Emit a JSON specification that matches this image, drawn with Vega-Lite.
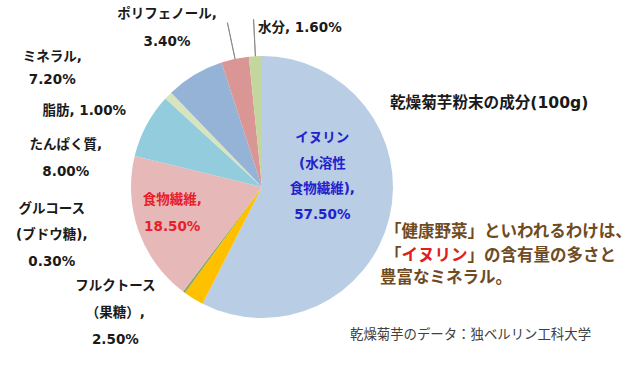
{
  "$schema": "https://vega.github.io/schema/vega-lite/v6.json",
  "width": 262,
  "height": 262,
  "autosize": {"type": "none"},
  "padding": {"left": 131, "top": 56, "right": 247, "bottom": 49},
  "background": "white",
  "config": {"view": {"stroke": null}, "text": {"font": "DejaVu Sans, Noto Sans CJK JP"}},
  "datasets": {
    "parts": [
      {"idx": 1, "name": "イヌリン", "pct": 57.5, "label": "イヌリン\n(水溶性\n食物繊維),\n57.50%"},
      {"idx": 2, "name": "フルクトース", "pct": 2.5, "label": "フルクトース\n（果糖）,\n2.50%"},
      {"idx": 3, "name": "グルコース", "pct": 0.3, "label": "グルコース\n(ブドウ糖),\n0.30%"},
      {"idx": 4, "name": "食物繊維", "pct": 18.5, "label": "食物繊維,\n18.50%"},
      {"idx": 5, "name": "たんぱく質", "pct": 8.0, "label": "たんぱく質,\n8.00%"},
      {"idx": 6, "name": "脂肪", "pct": 1.0, "label": "脂肪, 1.00%"},
      {"idx": 7, "name": "ミネラル", "pct": 7.2, "label": "ミネラル,\n7.20%"},
      {"idx": 8, "name": "ポリフェノール", "pct": 3.4, "label": "ポリフェノール,\n3.40%"},
      {"idx": 9, "name": "水分", "pct": 1.6, "label": "水分, 1.60%"}
    ],
    "notes": [
      {"id": "title", "text": "乾燥菊芋粉末の成分(100g)"},
      {"id": "c1", "text": "「健康野菜」といわれるわけは、"},
      {"id": "c2a", "text": "「"},
      {"id": "c2b", "text": "イヌリン"},
      {"id": "c2c", "text": "」の含有量の多さと"},
      {"id": "c3", "text": "豊富なミネラル。"},
      {"id": "src", "text": "乾燥菊芋のデータ：独ベルリン工科大学"}
    ]
  },
  "layer": [
    {
      "data": {"name": "parts"},
      "encoding": {
        "theta": {"field": "pct", "type": "quantitative", "stack": true},
        "order": {"field": "idx", "type": "quantitative"}
      },
      "layer": [
        {
          "mark": {"type": "arc", "radius": 131},
          "encoding": {
            "color": {
              "field": "name",
              "type": "nominal",
              "scale": {
                "domain": ["イヌリン", "フルクトース", "グルコース", "食物繊維", "たんぱく質", "脂肪", "ミネラル", "ポリフェノール", "水分"],
                "range": ["#B9CDE5", "#FFC000", "#8FA860", "#E6B9B8", "#93CDDD", "#D7E4BD", "#95B3D7", "#D99694", "#C3D69B"]
              },
              "legend": null
            }
          }
        },
        {
          "mark": {"type": "arc", "radius": 168, "radius2": 131, "padAngle": 1.5, "filled": false, "stroke": "#7f7f7f", "strokeWidth": 0.8},
          "encoding": {
            "strokeOpacity": {"condition": {"test": "datum.name === 'ポリフェノール' || datum.name === '水分'", "value": 1}, "value": 0}
          }
        },
        {
          "mark": {"type": "text", "radius": 62, "dx": 0, "dy": -63.5, "align": "center", "baseline": "middle", "lineBreak": "\n", "lineHeight": 25.7, "fontSize": 13.5, "fontWeight": "bold", "color": "#2222CC"},
          "encoding": {"text": {"condition": {"test": "datum.name === 'イヌリン'", "field": "label"}, "value": ""}}
        },
        {
          "mark": {"type": "text", "radius": 90, "dx": -5, "dy": -17, "align": "center", "baseline": "middle", "lineBreak": "\n", "lineHeight": 27, "fontSize": 13.5, "fontWeight": "bold", "color": "#E8202A"},
          "encoding": {"text": {"condition": {"test": "datum.name === '食物繊維'", "field": "label"}, "value": ""}}
        },
        {
          "mark": {"type": "text", "radius": 170, "dx": -60, "dy": -6.6, "align": "center", "baseline": "middle", "lineBreak": "\n", "lineHeight": 28, "fontSize": 13.5, "fontWeight": "bold", "color": "#1a1a1a"},
          "encoding": {"text": {"condition": {"test": "datum.name === 'ポリフェノール'", "field": "label"}, "value": ""}}
        },
        {
          "mark": {"type": "text", "radius": 167, "dx": 4.4, "dy": 7.8, "align": "left", "baseline": "middle", "fontSize": 13.5, "fontWeight": "bold", "color": "#1a1a1a"},
          "encoding": {"text": {"condition": {"test": "datum.name === '水分'", "field": "label"}, "value": ""}}
        },
        {
          "mark": {"type": "text", "radius": 190, "dx": -112, "dy": 33, "align": "center", "baseline": "middle", "lineBreak": "\n", "lineHeight": 23, "fontSize": 13.5, "fontWeight": "bold", "color": "#1a1a1a"},
          "encoding": {"text": {"condition": {"test": "datum.name === 'ミネラル'", "field": "label"}, "value": ""}}
        },
        {
          "mark": {"type": "text", "radius": 170, "dx": -56, "dy": 43, "align": "center", "baseline": "middle", "fontSize": 13.5, "fontWeight": "bold", "color": "#1a1a1a"},
          "encoding": {"text": {"condition": {"test": "datum.name === '脂肪'", "field": "label"}, "value": ""}}
        },
        {
          "mark": {"type": "text", "radius": 185, "dx": -33, "dy": 45, "align": "center", "baseline": "middle", "lineBreak": "\n", "lineHeight": 27, "fontSize": 13.5, "fontWeight": "bold", "color": "#1a1a1a"},
          "encoding": {"text": {"condition": {"test": "datum.name === 'たんぱく質'", "field": "label"}, "value": ""}}
        },
        {
          "mark": {"type": "text", "radius": 170, "dx": -109, "dy": -115, "align": "center", "baseline": "middle", "lineBreak": "\n", "lineHeight": 26.5, "fontSize": 13.5, "fontWeight": "bold", "color": "#1a1a1a"},
          "encoding": {"text": {"condition": {"test": "datum.name === 'グルコース'", "field": "label"}, "value": ""}}
        },
        {
          "mark": {"type": "text", "radius": 160, "dx": -63, "dy": -37, "align": "center", "baseline": "middle", "lineBreak": "\n", "lineHeight": 27, "fontSize": 13.5, "fontWeight": "bold", "color": "#1a1a1a"},
          "encoding": {"text": {"condition": {"test": "datum.name === 'フルクトース'", "field": "label"}, "value": ""}}
        }
      ]
    },
    {
      "data": {"name": "notes"},
      "transform": [{"filter": "datum.id === 'title'"}],
      "mark": {"type": "text", "x": 259, "y": 47, "align": "left", "baseline": "middle", "fontSize": 15.6, "fontWeight": "bold", "color": "#1a1a1a"},
      "encoding": {"text": {"field": "text"}}
    },
    {
      "data": {"name": "notes"},
      "transform": [{"filter": "datum.id === 'c1'"}],
      "mark": {"type": "text", "x": 254, "y": 176, "align": "left", "baseline": "middle", "font": "Noto Sans CJK JP", "fontSize": 16.5, "fontWeight": "bold", "color": "#704B1F"},
      "encoding": {"text": {"field": "text"}}
    },
    {
      "data": {"name": "notes"},
      "transform": [{"filter": "datum.id === 'c2a'"}],
      "mark": {"type": "text", "x": 254, "y": 200, "align": "left", "baseline": "middle", "font": "Noto Sans CJK JP", "fontSize": 16.5, "fontWeight": "bold", "color": "#704B1F"},
      "encoding": {"text": {"field": "text"}}
    },
    {
      "data": {"name": "notes"},
      "transform": [{"filter": "datum.id === 'c2b'"}],
      "mark": {"type": "text", "x": 270.5, "y": 200, "align": "left", "baseline": "middle", "font": "Noto Sans CJK JP", "fontSize": 16.5, "fontWeight": "bold", "color": "#E0201C"},
      "encoding": {"text": {"field": "text"}}
    },
    {
      "data": {"name": "notes"},
      "transform": [{"filter": "datum.id === 'c2c'"}],
      "mark": {"type": "text", "x": 336.5, "y": 200, "align": "left", "baseline": "middle", "font": "Noto Sans CJK JP", "fontSize": 16.5, "fontWeight": "bold", "color": "#704B1F"},
      "encoding": {"text": {"field": "text"}}
    },
    {
      "data": {"name": "notes"},
      "transform": [{"filter": "datum.id === 'c3'"}],
      "mark": {"type": "text", "x": 249, "y": 222, "align": "left", "baseline": "middle", "font": "Noto Sans CJK JP", "fontSize": 16.5, "fontWeight": "bold", "color": "#704B1F"},
      "encoding": {"text": {"field": "text"}}
    },
    {
      "data": {"name": "notes"},
      "transform": [{"filter": "datum.id === 'src'"}],
      "mark": {"type": "text", "x": 219, "y": 279, "align": "left", "baseline": "middle", "font": "Noto Sans CJK JP", "fontSize": 13.4, "color": "#404040"},
      "encoding": {"text": {"field": "text"}}
    }
  ]
}
